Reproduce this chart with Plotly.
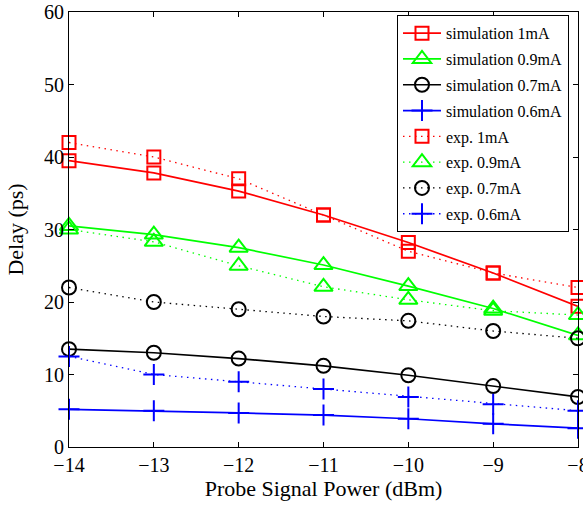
import plotly.graph_objects as go

power = [-14, -13, -12, -11, -10, -9, -8]

sim_1mA = [39.5, 37.8, 35.3, 32.0, 28.2, 24.0, 19.4]
sim_09mA = [30.5, 29.3, 27.5, 25.1, 22.2, 19.1, 15.4]
sim_07mA = [13.5, 13.0, 12.2, 11.2, 9.9, 8.4, 6.9]
sim_06mA = [5.2, 5.0, 4.7, 4.4, 3.9, 3.2, 2.6]

exp_1mA = [42.0, 40.0, 37.0, 32.0, 27.0, 24.0, 22.0]
exp_09mA = [30.0, 28.3, 25.0, 22.1, 20.3, 18.8, 18.2]
exp_07mA = [22.0, 20.0, 19.0, 18.0, 17.4, 16.0, 15.0]
exp_06mA = [12.5, 10.0, 9.0, 8.0, 6.9, 5.9, 5.0]

FONT = "Liberation Serif"
DOT = "1.5px,4.5px"

series = [
    ("simulation 1mA", sim_1mA, "#ff0000", "square-open", "solid", 13, 1.7),
    ("simulation 0.9mA", sim_09mA, "#00ff00", "triangle-up-open", "solid", 16, 1.7),
    ("simulation 0.7mA", sim_07mA, "#000000", "circle-open", "solid", 14, 1.7),
    ("simulation 0.6mA", sim_06mA, "#0000ff", "cross-thin-open", "solid", 15, 1.7),
    ("exp. 1mA", exp_1mA, "#ff0000", "square-open", DOT, 13, 1.3),
    ("exp. 0.9mA", exp_09mA, "#00ff00", "triangle-up-open", DOT, 16, 1.3),
    ("exp. 0.7mA", exp_07mA, "#000000", "circle-open", DOT, 14, 1.3),
    ("exp. 0.6mA", exp_06mA, "#0000ff", "cross-thin-open", DOT, 15, 1.3),
]

fig = go.Figure()
for i, (name, ys, color, sym, dash, size, lw) in enumerate(series):
    fig.add_trace(go.Scatter(
        x=power, y=ys, name=name, mode="lines+markers",
        line=dict(color=color, width=lw, dash=dash),
        marker=dict(symbol=sym, size=size, color=color,
                    line=dict(color=color, width=2)),
        legendgroup=f"g{i}", cliponaxis=False,
    ))

axis_common = dict(
    showline=True, linecolor="black", linewidth=1.2, mirror="ticks",
    ticks="inside", ticklen=5, tickcolor="black", tickwidth=1,
    showgrid=False, zeroline=False, ticklabeloverflow="allow",
    tickfont=dict(family=FONT, size=20, color="black"),
)

fig.update_layout(
    width=583, height=508,
    margin=dict(l=69, r=5, t=12, b=61),
    plot_bgcolor="white", paper_bgcolor="white",
    font=dict(family=FONT, color="black"),
    xaxis=dict(range=[-14, -8], dtick=1, tick0=-14,
               title=dict(text="Probe Signal Power (dBm)", font=dict(family=FONT, size=22), standoff=3),
               automargin=False, **axis_common),
    yaxis=dict(range=[0, 60], dtick=10, tick0=0,
               title=dict(text="Delay (ps)", font=dict(family=FONT, size=22), standoff=14),
               automargin=False, **axis_common),
    legend=dict(
        x=0.644, y=0.993, xanchor="left", yanchor="top",
        bordercolor="black", borderwidth=1.2, bgcolor="white",
        font=dict(family=FONT, size=16, color="black"),
        tracegroupgap=2, itemwidth=38,
    ),
)

fig.write_html(
    "out.html",
    config={"displayModeBar": False},
    post_script="document.body.style.margin='0px';document.body.style.overflow='hidden';",
)
